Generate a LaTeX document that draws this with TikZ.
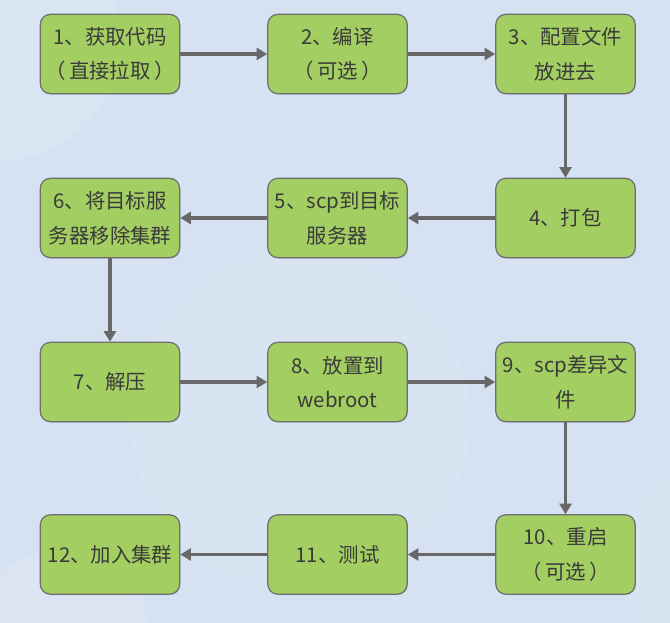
\documentclass[tikz,border=0pt]{standalone}
\usepackage{fontspec}
\setmainfont{Noto Sans CJK SC}
\usetikzlibrary{arrows.meta,shadows}
\definecolor{bgc}{HTML}{D6E2F2}
\definecolor{boxfill}{HTML}{A3CF62}
\definecolor{boxline}{HTML}{6E6E6E}
\definecolor{txt}{HTML}{3A3A3A}
\definecolor{arr}{HTML}{686868}
\tikzset{
  stepbox/.style={draw=boxline, line width=0.9pt, fill=boxfill, rounded corners=7.5pt,
    minimum width=104.5pt, minimum height=59.5pt, inner sep=0pt, text=txt,
    font=\fontsize{15.3}{26}\selectfont, align=center, text width=104pt,
    drop shadow={shadow xshift=0.6pt, shadow yshift=-0.8pt, opacity=0.25}},
  flow/.style={draw=arr, line width=2.4pt, -{Triangle[length=8pt,width=9pt]}}
}
\begin{document}
\begin{tikzpicture}[x=0.75pt,y=-0.75pt]
\fill[bgc] (0,0) rectangle (670,623);
\begin{scope}
\clip (0,0) rectangle (670,623);
\fill[white,opacity=0.12] (0,40) circle (120);
\fill[white,opacity=0.08] (300,420) circle (170);
\fill[white,opacity=0.08] (720,560) circle (100);
\fill[white,opacity=0.10] (60,640) circle (90);
\end{scope}
\useasboundingbox (0,0) rectangle (670,623);
\node[stepbox] (n1) at (110,54) {1、获取代码\\（\,直接拉取\,）};
\node[stepbox] (n2) at (337.5,54) {2、编译\\（\,可选\,）};
\node[stepbox] (n3) at (565.5,54) {3、配置文件\\放进去};
\node[stepbox] (n4) at (565.5,218) {4、打包};
\node[stepbox] (n5) at (337.5,218) {5、scp到目标\\服务器};
\node[stepbox] (n6) at (110,218) {6、将目标服\\务器移除集群};
\node[stepbox] (n7) at (110,382) {7、解压};
\node[stepbox] (n8) at (337.5,382) {8、放置到\\webroot};
\node[stepbox] (n9) at (565.5,382) {9、scp差异文\\件};
\node[stepbox] (n10) at (565.5,554.5) {10、重启\\（\,可选\,）};
\node[stepbox] (n11) at (337.5,554.5) {11、测试};
\node[stepbox] (n12) at (110,554.5) {12、加入集群};
\draw[flow] (n1) -- (n2);
\draw[flow] (n2) -- (n3);
\draw[flow] (n3) -- (n4);
\draw[flow] (n4) -- (n5);
\draw[flow] (n5) -- (n6);
\draw[flow] (n6) -- (n7);
\draw[flow] (n7) -- (n8);
\draw[flow] (n8) -- (n9);
\draw[flow] (n9) -- (n10);
\draw[flow] (n10) -- (n11);
\draw[flow] (n11) -- (n12);
\end{tikzpicture}
\end{document}
